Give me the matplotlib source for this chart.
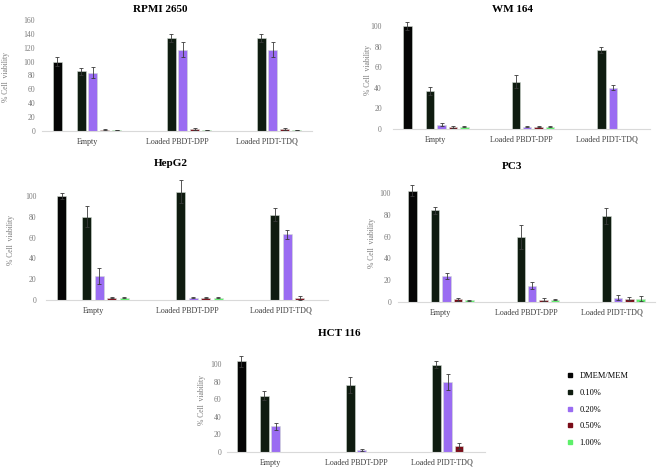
import numpy as np
import matplotlib
matplotlib.use('Agg')
import matplotlib.pyplot as plt
from matplotlib.lines import Line2D

plt.rcParams['font.family'] = ['Liberation Serif', 'DejaVu Serif']

# Groups and series shared by all panels.
groups = ['Empty', 'Loaded PBDT-DPP', 'Loaded PIDT-TDQ']
series = ['DMEM/MEM', '0.10%', '0.20%', '0.50%', '1.00%']
colors = ['#050505', '#0f1c10', '#9a6cf2', '#7a0c18', '#5df06a']
nan = np.nan

# Rows follow `series`, columns follow `groups`.
rpmi_vals = [[100, nan, nan], [86, 134, 134], [84, 117, 117], [2, 3, 3], [1.5, 1.5, 1.5]]
rpmi_err = [[6, 0, 0], [5, 6, 6], [8, 11, 11], [1, 2, 2], [0.5, 0.5, 0.5]]

wm_vals = [[100, nan, nan], [37, 46, 77], [4, 2, 40], [2, 2, 0.3], [2, 2, 0.3]]
wm_err = [[4, 0, 0], [4, 6, 3], [1.5, 0.5, 2.5], [1, 0.5, 0], [0.5, 0.5, 0]]

hep_vals = [[100, nan, nan], [80, 104, 82], [23, 2, 63], [2, 2, 2], [2, 2, 0.3]]
hep_err = [[2.5, 0, 0], [10, 11, 6.5], [8, 0.5, 4.5], [0.5, 0.5, 2], [0.5, 0.5, 0]]

pc3_vals = [[102, nan, nan], [84, 60, 79], [24, 15, 4], [2.5, 2, 3], [1.5, 2, 3]]
pc3_err = [[5, 0, 0], [3, 11, 7], [3, 3, 2], [1.5, 1.5, 1.5], [0.5, 0.5, 2.5]]

hct_vals = [[103, nan, nan], [64, 76, 99], [29, 2, 80], [0.5, 0, 7], [0, 0, 0]]
hct_err = [[6, 0, 0], [5, 9, 4], [4, 1, 9], [0, 0, 3.5], [0, 0, 0]]

# 6 slots per group, the second one is left empty
slots = [0, 2, 3, 4, 5]
step = 0.1333
bw = 0.1

fig = plt.figure(figsize=(6.6, 4.68), dpi=100)
W, H = 660., 468.


def px_axes(x0, x1, ytop, ybot):
    return fig.add_axes([x0 / W, 1 - ybot / H, (x1 - x0) / W, (ybot - ytop) / H])


def panel(ax, vals, err, ymax, ystep, title, tpos, lpos, pad):
    x = np.arange(len(groups))
    for i in range(len(series)):
        v = np.array(vals[i], dtype=float)
        e = np.array(err[i], dtype=float)
        pos = x + (slots[i] - 2.5) * step
        ax.bar(pos, v, bw, color=colors[i], edgecolor='#d3dbd3', linewidth=0.4,
               clip_on=False, zorder=2)
        ok = ~np.isnan(v) & (e > 0)
        ax.errorbar(pos[ok], v[ok], yerr=e[ok], fmt='none', ecolor='#3a3a3a',
                    elinewidth=0.6, capsize=1.5, capthick=0.6, clip_on=False, zorder=3)
    ax.set_xlim(-0.5, 2.5)
    ax.set_ylim(0, ymax)
    ax.set_yticks(np.arange(0, ymax + 1, ystep))
    ax.set_xticks(x)
    ax.set_xticklabels(groups, fontsize=5.8, color='#404040')
    ax.tick_params(axis='y', length=0, labelsize=5.5, labelcolor='#7a7a7a', pad=pad)
    ax.tick_params(axis='x', length=0, pad=5)
    for s in ['top', 'right', 'left']:
        ax.spines[s].set_visible(False)
    ax.spines['bottom'].set_color('#d9d9d9')
    ax.spines['bottom'].set_linewidth(0.8)
    ax.patch.set_alpha(0)
    fig.text(tpos[0] / W, 1 - tpos[1] / H, title, fontsize=8, fontweight='bold',
             ha='center', va='center')
    fig.text(lpos[0] / W, 1 - lpos[1] / H, '% Cell  viability', fontsize=5.5,
             color='#7a7a7a', rotation=90, ha='center', va='center')


ax1 = px_axes(42, 312, 20, 131)
panel(ax1, rpmi_vals, rpmi_err, 160, 20, 'RPMI 2650', (160, 10), (6, 77), 5)

ax2 = px_axes(393, 650, 26, 129)
panel(ax2, wm_vals, wm_err, 100, 20, 'WM 164', (512, 10), (368, 70), 8)

ax3 = px_axes(46, 328, 196, 300)
panel(ax3, hep_vals, hep_err, 100, 20, 'HepG2', (171, 163), (11, 240), 7)

ax4 = px_axes(398, 655, 193, 302)
panel(ax4, pc3_vals, pc3_err, 100, 20, 'PC3', (512, 166), (372, 243), 5)

ax5 = px_axes(227, 485, 364, 452)
panel(ax5, hct_vals, hct_err, 100, 20, 'HCT 116', (339, 333), (202, 400), 4)

handles = [Line2D([], [], marker='s', linestyle='none', markersize=3,
                  markerfacecolor=c, markeredgecolor=c) for c in colors]
fig.legend(handles, series, loc='upper left', bbox_to_anchor=(566 / W, 1 - 372 / H),
           frameon=False, fontsize=6, labelspacing=1.05, handletextpad=0.6,
           handlelength=1.0, borderpad=0, borderaxespad=0)

fig.savefig('out.png', dpi=100)
plt.close(fig)
